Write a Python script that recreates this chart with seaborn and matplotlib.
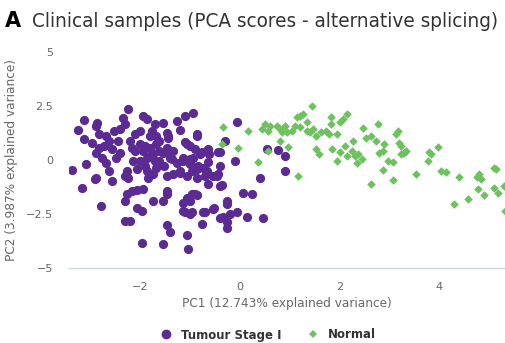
import numpy as np
import pandas as pd
import matplotlib
matplotlib.use("Agg")
import matplotlib.pyplot as plt
import seaborn as sns
from matplotlib.lines import Line2D

# ---------------- data ----------------
tumour_pc1 = [-2.26, -1.96, -1.88, -2.36, -2.32, -1.72, -1.55, -1.27, -1.11, -0.95,
              -1.21, -0.87, -3.13, -3.25, -2.87, -2.89, -3.13, -2.97, -2.83, -2.69,
              -2.63, -2.53, -2.46, -2.42, -2.12, -2.02, -1.78, -1.68, -1.47, -1.45,
              -3.37, -3.09, -2.89, -2.83, -2.77, -2.69, -2.89, -2.57, -2.63, -2.49,
              -2.42, -2.28, -2.26, -2.32, -2.18, -2.02, -1.96, -1.88, -2.02, -1.82,
              -1.76, -1.68, -1.62, -1.55, -1.47, -1.41, -1.35, -1.27, -1.15, -1.07,
              -1.01, -0.95, -0.87, -0.81, -0.75, -0.67, -0.65, -0.44, -0.65, -0.40,
              -0.40, -0.10, -0.30, -0.06, -1.35, -1.21, -1.47, -1.76, -1.68, -1.88,
              -2.08, -2.16, -1.07, -0.87, -0.55,
              -3.17, -2.79, -2.32, -2.28, -2.18, -2.08, -1.96, -2.08, -1.98, -2.32,
              -2.22, -1.76, -1.55, -1.47, -1.15, -1.07, -0.97, -0.87, -1.15, -0.97,
              -0.77, -0.75, -0.55, -0.34, -0.26, -0.20, -0.26, -0.06, 0.14, 0.06,
              0.24, -0.26, -0.26, -1.47, -1.41, -1.07, -1.98, -1.55, -1.05,
              0.55, 0.77, 0.91, 0.91, 0.40, 0.46, -0.67, -0.63, -0.36, -0.53,
              -0.40, -0.71, -0.91, -1.01, -1.11, -1.01, -2.91, -1.86, -1.47,
              -1.11, -1.01, -0.91, -0.77, -1.45, -1.37, -1.15, -1.01, -0.85, -0.65,
              -0.44, -0.40, -1.21, -0.97, -0.71, -0.46, -1.45, -0.87,
              -1.92, -1.82, -1.72, -1.62, -1.92, -1.62, -1.52, -1.82, -2.12, -2.22,
              -2.57, -2.73]
tumour_pc2 = [2.34, 2.06, 1.88, 1.93, 1.65, 1.65, 1.70, 1.79, 2.02, 2.16,
              1.38, 1.19, 1.83, 1.38, 1.70, 1.56, 0.96, 0.78, 1.19, 1.10,
              0.87, 1.33, 0.87, 1.42, 1.19, 1.33, 1.33, 1.10, 1.24, 1.01,
              -0.46, -0.18, 0.32, 0.55, 0.09, -0.14, -0.83, -0.96, -0.50, 0.09,
              0.32, -0.50, -0.83, -0.73, 0.55, 0.73, 0.41, 0.09, -0.05, 0.55,
              0.28, 0.73, -0.05, 0.32, 0.55, 0.09, 0.41, -0.14, 0.09, 0.73,
              -0.18, 0.09, -0.41, 0.28, -0.37, -0.50, 0.50, -0.64, -1.10, -1.19,
              0.37, -0.05, 0.87, 1.74, -0.64, -0.60, -0.73, -0.64, -0.37, -0.50,
              -0.41, -0.05, -0.73, -0.83, -0.73,
              -1.28, -2.11, -1.88, -1.56, -1.42, -1.38, -1.33, -2.20, -2.34, -2.84,
              -2.84, -1.88, -1.88, -1.56, -1.97, -1.74, -1.56, -1.61, -2.34, -2.43,
              -2.94, -2.43, -2.25, -2.66, -2.89, -2.52, -3.17, -2.43, -2.66, -1.51,
              -1.56, -1.88, -2.02, -3.03, -3.35, -3.49, -3.85, -3.90, -4.13,
              0.50, 0.46, 0.18, -0.50, -0.83, -2.70, 0.41, 0.28, -1.15, -2.20,
              -2.70, -2.43, -1.56, -1.88, -2.43, -2.48, -0.87, -0.83, -1.42,
              0.83, 0.64, 0.50, 0.37, 0.37, 0.05, -0.05, 0.05, -0.28, -0.09,
              0.37, -0.28, -0.50, -0.50, -0.73, -0.73, 1.10, 1.10,
              0.64, 0.18, -0.05, 0.41, -0.28, 0.87, -0.28, 1.10, 0.41, 0.87,
              0.50, 0.64]

normal_pc1 = [-0.34, -0.36, -0.04, 0.16, 0.36, 0.57, 0.44, 0.51, 0.57, 0.61,
              0.75, 0.81, 0.91, 0.85, 0.95, 0.81, 0.97, 1.05, 1.15, 1.21,
              1.27, 1.11, 1.21, 1.35, 1.35, 1.41, 1.47, 1.45, 1.52, 1.62,
              1.72, 1.78, 1.82, 1.82, 1.58, 1.52, 1.17, 1.86, 1.96, 1.96,
              2.02, 2.08, 2.16, 2.02, 2.12, 2.16, 2.26, 2.28, 2.32, 2.38,
              2.46, 2.36, 2.48, 2.53, 2.63, 2.73, 2.77, 2.89, 2.79, 2.87,
              2.97, 3.07, 3.17, 3.13, 3.19, 3.23, 3.29, 3.23, 2.87, 2.63,
              3.07, 3.54, 3.80, 3.84, 3.78, 3.98, 4.04, 4.14, 4.40, 4.30,
              4.59, 4.81, 4.77, 4.85, 4.79, 4.91, 5.11, 5.15, 5.11, 5.19,
              5.31, 5.33, 3.33]
normal_pc2 = [1.51, 0.73, 0.55, 1.33, -0.09, 0.41, 1.42, 1.65, 1.33, 1.56,
              1.56, 1.42, 1.56, 1.28, 1.28, 0.87, 0.60, 1.33, 1.97, 2.02,
              2.11, 1.56, 1.51, 1.74, 1.33, 1.28, 1.42, 2.48, 1.10, 1.28,
              1.33, 1.19, 1.65, 1.97, 0.28, 0.50, -0.73, 0.50, -0.05, 1.19,
              1.74, 1.88, 2.11, 0.37, 0.64, 0.18, 0.41, 0.87, 0.18, 0.28,
              0.05, -0.14, 1.47, 1.01, 1.10, 0.87, 1.65, 0.73, 0.32, 0.41,
              -0.05, -0.09, 1.33, 1.19, 0.78, 0.64, 0.32, 0.28, -0.46, -1.10,
              -0.92, -0.64, 0.37, 0.28, -0.05, 0.60, -0.50, -0.55, -0.78, -2.02,
              -1.79, -0.64, -0.78, -0.87, -1.33, -1.61, -0.37, -0.41, -1.28, -1.51,
              -1.19, -2.34, 0.41]

series_names = ["Tumour Stage I", "Normal"]
x_ticks = [-2, 0, 2, 4]
x_tick_labels = ["\u22122", "0", "2", "4"]
y_ticks = [-5, -2.5, 0, 2.5, 5]
y_tick_labels = ["\u22125", "\u22122.5", "0", "2.5", "5"]
title_letter = "A"
title_text = "Clinical samples (PCA scores - alternative splicing)"
x_label = "PC1 (12.743% explained variance)"
y_label = "PC2 (3.987% explained variance)"

PURPLE = "#5b2a92"
GREEN = "#6cc35e"
GREY = "#666666"
AXIS = "#ccd6eb"

# ---------------- figure ----------------
sns.set_theme(style="white")
plt.rcParams["font.family"] = ["DejaVu Sans"]

W, H = 505, 343
fig = plt.figure(figsize=(W / 100, H / 100), dpi=100)
fig.patch.set_facecolor("white")
ax = fig.add_axes([69 / W, (H - 268) / H, (W - 69) / W, (268 - 52) / H])

df_t = pd.DataFrame({"PC1": tumour_pc1, "PC2": tumour_pc2, "group": series_names[0]})
df_n = pd.DataFrame({"PC1": normal_pc1, "PC2": normal_pc2, "group": series_names[1]})

sns.scatterplot(data=df_t, x="PC1", y="PC2", color=PURPLE, marker="o", s=44,
                linewidth=0, ax=ax, legend=False, zorder=3)
sns.scatterplot(data=df_n, x="PC1", y="PC2", color=GREEN, marker="D", s=19,
                linewidth=0, ax=ax, legend=False, zorder=4)

ax.set_xlim(-3.44, 5.33)
ax.set_ylim(-5, 5)
ax.set_xticks(x_ticks)
ax.set_xticklabels(x_tick_labels)
ax.set_yticks(y_ticks)
ax.set_yticklabels(y_tick_labels)
for s in ["top", "right", "left"]:
    ax.spines[s].set_visible(False)
ax.spines["bottom"].set_color(AXIS)
ax.spines["bottom"].set_linewidth(1)
ax.grid(False)
ax.tick_params(axis="x", direction="out", length=7, width=1, color=AXIS,
               labelsize=8, labelcolor=GREY, pad=3)
ax.tick_params(axis="y", length=0, labelsize=8, labelcolor=GREY, pad=11.5)

ax.set_xlabel(x_label, fontsize=8.7, color=GREY, labelpad=3.5)
ax.set_ylabel(y_label, fontsize=8.7, color=GREY)
ax.yaxis.label.set_va("center")
ax.yaxis.set_label_coords((12 - 69) / (W - 69), 0.5)

# title
fig.text(5 / W, 1 - 27 / H, title_letter, fontsize=15, fontweight="bold",
         color="#000000", va="baseline", ha="left")
t = fig.text(32 / W, 1 - 27 / H, title_text, fontsize=13, color="#333333",
             va="baseline", ha="left")
fig.canvas.draw()
wpx = t.get_window_extent().width
t.set_fontsize(13 * 468 / wpx)

# legend
handles = [Line2D([], [], linestyle="none", marker="o", markersize=7,
                  markerfacecolor=PURPLE, markeredgewidth=0),
           Line2D([], [], linestyle="none", marker="D", markersize=4.5,
                  markerfacecolor=GREEN, markeredgewidth=0)]
leg = fig.legend(handles, series_names, loc="center", ncol=2, frameon=False,
                 bbox_to_anchor=(268 / W, 1 - 335 / H),
                 prop={"weight": "bold", "size": 8.5},
                 handlelength=1.0, handletextpad=0.75, columnspacing=2.2)
for txt in leg.get_texts():
    txt.set_color("#333333")

fig.savefig("out.png", dpi=100, facecolor="white")
